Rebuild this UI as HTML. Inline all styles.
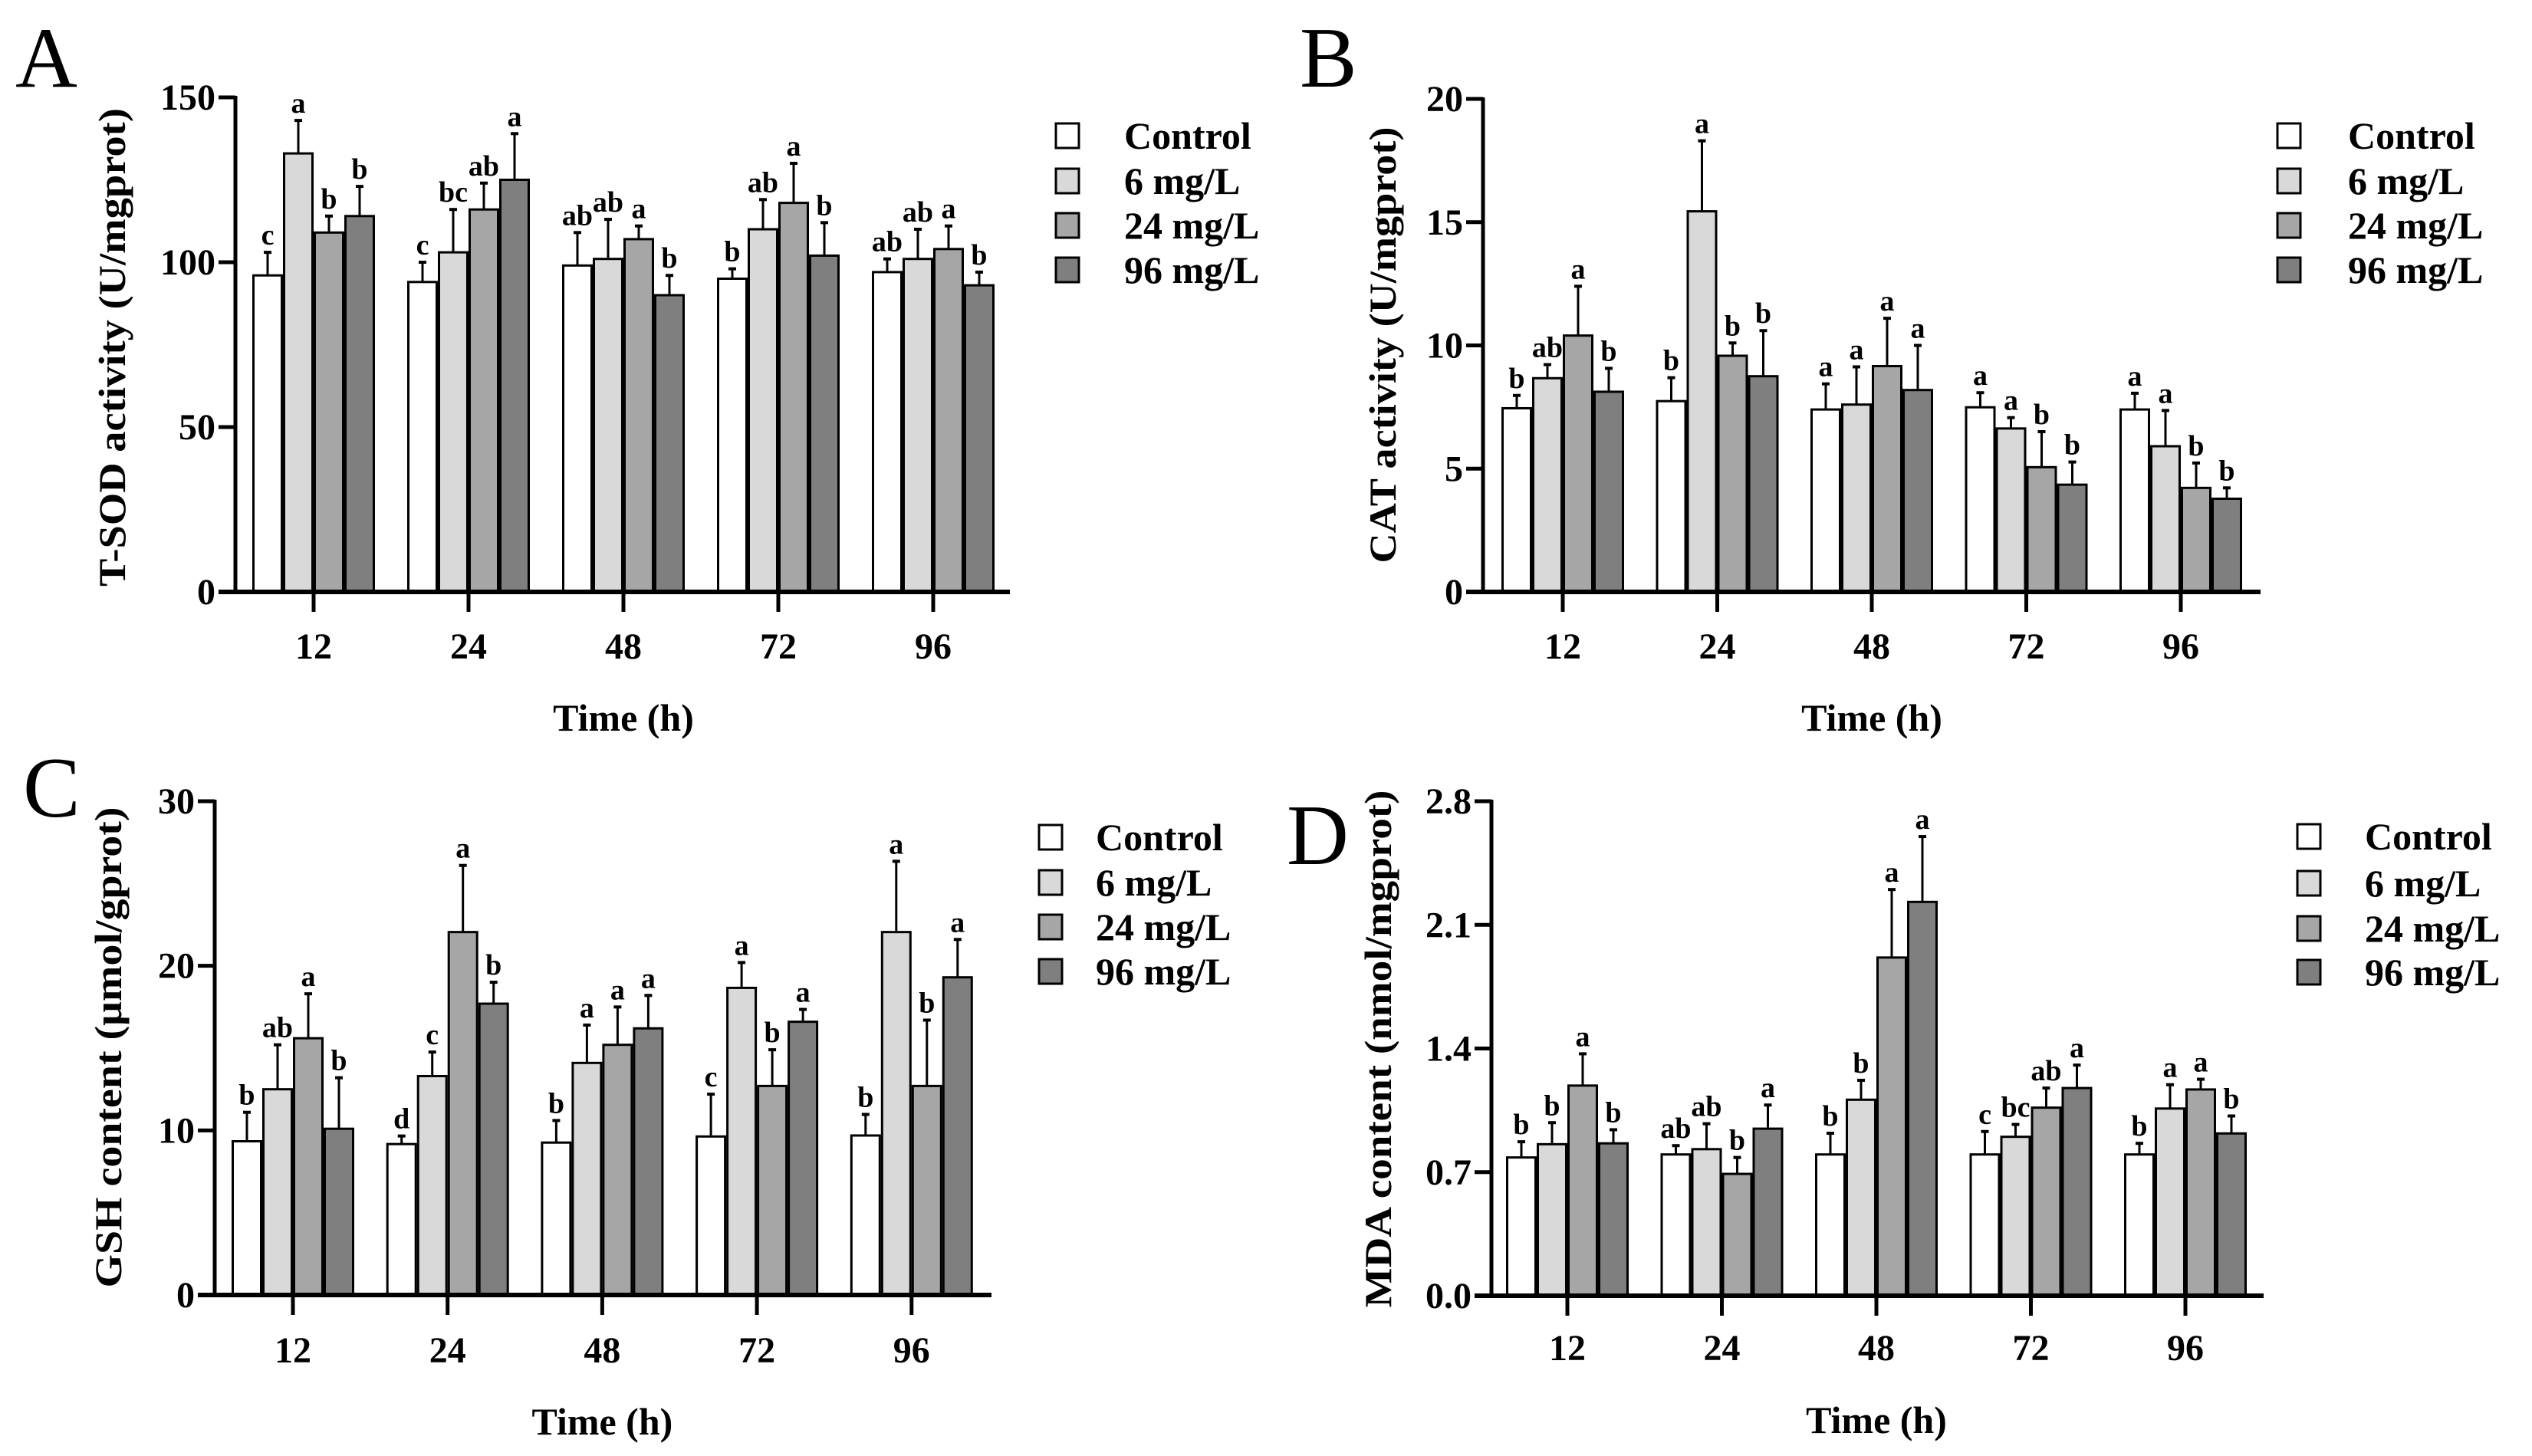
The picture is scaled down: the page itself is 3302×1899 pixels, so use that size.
<!DOCTYPE html>
<html><head><meta charset="utf-8">
<style>
html,body{margin:0;padding:0;background:#fff;}
svg{display:block;font-family:"Liberation Serif","Times New Roman",serif;}
svg text{font-family:"Liberation Serif","Times New Roman",serif;}
</style></head>
<body>
<svg id="fig" width="3302" height="1899" viewBox="0 0 3302 1899" xmlns="http://www.w3.org/2000/svg" font-family="Liberation Serif, serif"></svg>
<script>
const categories = ["12","24","48","72","96"];
const seriesNames = ["Control","6 mg/L","24 mg/L","96 mg/L"];
const seriesColors = ["#ffffff","#d9d9d9","#a6a6a6","#7f7f7f"];

// Panel A: T-SOD
const sodMean = [[96,94,99,95,97],[133,103,101,110,101],[109,116,107,118,104],[114,125,90,102,93]];
const sodErrTop = [[103,100,109,98,101],[143,116,113,119,110],[114,124,111,130,111],[123,139,96,112,97]];
const sodLetters = [["c","c","ab","b","ab"],["a","bc","ab","ab","ab"],["b","ab","a","a","a"],["b","a","b","b","b"]];
const sodTicks = [0,50,100,150];

// Panel B: CAT
const catMean = [[7.45,7.74,7.4,7.49,7.4],[8.67,15.44,7.6,6.63,5.91],[10.4,9.58,9.16,5.06,4.22],[8.12,8.75,8.19,4.35,3.78]];
const catErrTop = [[7.97,8.69,8.44,8.08,8.06],[9.22,18.3,9.13,7.07,7.36],[12.4,10.1,11.1,6.5,5.23],[9.07,10.6,10.0,5.27,4.22]];
const catLetters = [["b","b","a","a","a"],["ab","a","a","a","a"],["a","b","a","b","b"],["b","b","a","b","b"]];
const catTicks = [0,5,10,15,20];

// Panel C: GSH
const gshMean = [[9.34,9.17,9.26,9.63,9.69],[12.5,13.3,14.1,18.66,22.05],[15.6,22.05,15.2,12.7,12.7],[10.1,17.7,16.2,16.6,19.3]];
const gshErrTop = [[11.1,9.66,10.6,12.2,10.97],[15.2,14.76,16.4,20.2,26.35],[18.3,26.1,17.5,14.9,16.7],[13.2,19.0,18.2,17.35,21.6]];
const gshLetters = [["b","d","b","c","b"],["ab","c","a","a","a"],["a","a","a","b","b"],["b","b","a","a","a"]];
const gshTicks = [0,10,20,30];

// Panel D: MDA
const mdaMean = [[0.783,0.80,0.80,0.80,0.80],[0.858,0.83,1.11,0.90,1.06],[1.19,0.69,1.915,1.065,1.168],[0.863,0.946,2.23,1.176,0.919]];
const mdaErrTop = [[0.872,0.85,0.92,0.93,0.863],[0.98,0.974,1.22,0.97,1.195],[1.37,0.783,2.30,1.176,1.226],[0.94,1.08,2.60,1.306,1.018]];
const mdaLetters = [["b","ab","b","c","b"],["b","ab","b","bc","a"],["a","b","a","ab","a"],["b","a","a","a","b"]];
const mdaTicks = [0.0,0.7,1.4,2.1,2.8];
const mdaTickLabels = ["0.0","0.7","1.4","2.1","2.8"];

const NS = "http://www.w3.org/2000/svg";
const FONT = "Liberation Serif, Times New Roman, serif";
const svg = document.getElementById("fig");
function mk(tag, attrs, parent){
  const e = document.createElementNS(NS, tag);
  for (const k in attrs) e.setAttribute(k, attrs[k]);
  if (tag === "text") e.setAttribute("font-family", FONT);
  (parent||svg).appendChild(e);
  return e;
}

function panel(cfg){
  const g = mk("g", {});
  
  
  const ymax = cfg.ticks[cfg.ticks.length-1];
  const yScale = v => cfg.y0 - (v/ymax)*(cfg.y0-cfg.yTop);
  const xCenter = i => cfg.x0 + i*cfg.step;
  const bw = 40;

  const pl = mk("text", {x:cfg.letterX, y:cfg.letterY, "font-size":112, fill:"#000"}, g);
  pl.textContent = cfg.letter;
  
  

  for (let s=0; s<4; s++){
    for (let c=0; c<categories.length; c++){
      const x = xCenter(c) - 2*bw + s*bw;
      const top = yScale(cfg.mean[s][c]);
      const et = yScale(cfg.err[s][c]);
      const cx = x + bw/2;
      const eb = mk("line", {x1:cx, x2:cx, y1:top, y2:et, stroke:"#000", "stroke-width":3}, g);
      
      
      const cap = mk("line", {x1:cx-5, x2:cx+5, y1:et, y2:et, stroke:"#000", "stroke-width":4}, g);
      
      
      const r = mk("rect", {x:x+1.5, y:top, width:bw-3, height:cfg.y0-top, fill:seriesColors[s], stroke:"#000", "stroke-width":3}, g);
      
      
      const t = mk("text", {x:cx, y:et-10, "font-size":38, "font-weight":"bold", "text-anchor":"middle", fill:"#000"}, g);
      t.textContent = cfg.letters[s][c];
      
      
    }
  }

  const ya = mk("line", {x1:cfg.ax, x2:cfg.ax, y1:cfg.yTop-2, y2:cfg.y0+2, stroke:"#000", "stroke-width":5}, g);
  
  
  const xa = mk("line", {x1:cfg.ax-22, x2:cfg.xEnd, y1:cfg.y0, y2:cfg.y0, stroke:"#000", "stroke-width":6}, g);
  
  

  cfg.ticks.forEach((v,i)=>{
    const y = yScale(v);
    const tk = mk("line", {x1:cfg.ax-22, x2:cfg.ax, y1:y, y2:y, stroke:"#000", "stroke-width":5}, g);
    
    
    const tl = mk("text", {x:cfg.ax-26, y:y+16, "font-size":48, "font-weight":"bold", "text-anchor":"end", fill:"#000"}, g);
    tl.textContent = cfg.tickLabels ? cfg.tickLabels[i] : String(v);
    
    
  });
  categories.forEach((c,i)=>{
    const x = xCenter(i);
    const tk = mk("line", {x1:x, x2:x, y1:cfg.y0, y2:cfg.y0+26, stroke:"#000", "stroke-width":5}, g);
    
    
    const tl = mk("text", {x:x, y:cfg.tickLabelY+17, "font-size":48, "font-weight":"bold", "text-anchor":"middle", fill:"#000"}, g);
    tl.textContent = c;
    
    
  });

  const xt = mk("text", {x:xCenter(2), y:cfg.timeY+17, "font-size":50, "font-weight":"bold", "text-anchor":"middle", fill:"#000"}, g);
  xt.textContent = "Time (h)";
  
  

  const yt = mk("text", {x:0, y:0, "font-size":50, "font-weight":"bold", "text-anchor":"middle", fill:"#000",
    transform:"translate(" + (cfg.ylabX+17) + "," + cfg.ylabY + ") rotate(-90)", textLength:cfg.ylabLen, lengthAdjust:"spacingAndGlyphs"}, g);
  yt.textContent = cfg.ylabel;
  
  

  seriesNames.forEach((n,i)=>{
    const y = cfg.legRows[i];
    const lb = mk("rect", {x:cfg.legBoxX, y:y-16, width:30, height:32, fill:seriesColors[i], stroke:"#000", "stroke-width":3}, g);
    
    
    const lt = mk("text", {x:cfg.legTextX, y:y+17, "font-size":50, "font-weight":"bold", fill:"#000"}, g);
    lt.textContent = n;
    
    
  });
}

panel({id:"a", letter:"A", letterX:20, letterY:113, mean:sodMean, err:sodErrTop, letters:sodLetters, ticks:sodTicks,
  ax:307, y0:772, yTop:127, x0:409, step:202, xEnd:1317, tickLabelY:842, timeY:936,
  ylabel:"T-SOD activity (U/mgprot)", ylabX:146, ylabY:453, ylabLen:624,
  legBoxX:1377, legTextX:1466, legRows:[177,236,294,352]});
panel({id:"b", letter:"B", letterX:1695, letterY:113, mean:catMean, err:catErrTop, letters:catLetters, ticks:catTicks,
  ax:1934, y0:772, yTop:129, x0:2038, step:201.5, xEnd:2948, tickLabelY:842, timeY:936,
  ylabel:"CAT activity (U/mgprot)", ylabX:1803, ylabY:450, ylabLen:569,
  legBoxX:2970, legTextX:3062, legRows:[177,236,294,352]});
panel({id:"c", letter:"C", letterX:30, letterY:1065, mean:gshMean, err:gshErrTop, letters:gshLetters, ticks:gshTicks,
  ax:280, y0:1689, yTop:1045, x0:382, step:201.7, xEnd:1293, tickLabelY:1760, timeY:1854,
  ylabel:"GSH content (\u03bcmol/gprot)", ylabX:141, ylabY:1366, ylabLen:627,
  legBoxX:1355, legTextX:1429, legRows:[1092,1151,1209,1267]});
panel({id:"d", letter:"D", letterX:1678, letterY:1127, mean:mdaMean, err:mdaErrTop, letters:mdaLetters, ticks:mdaTicks, tickLabels:mdaTickLabels,
  ax:1945, y0:1690, yTop:1045, x0:2044, step:201.5, xEnd:2952, tickLabelY:1757, timeY:1852,
  ylabel:"MDA content (nmol/mgprot)", ylabX:1797, ylabY:1368, ylabLen:675,
  legBoxX:2996, legTextX:3084, legRows:[1091,1152,1211,1268]});
</script>
</body></html>
